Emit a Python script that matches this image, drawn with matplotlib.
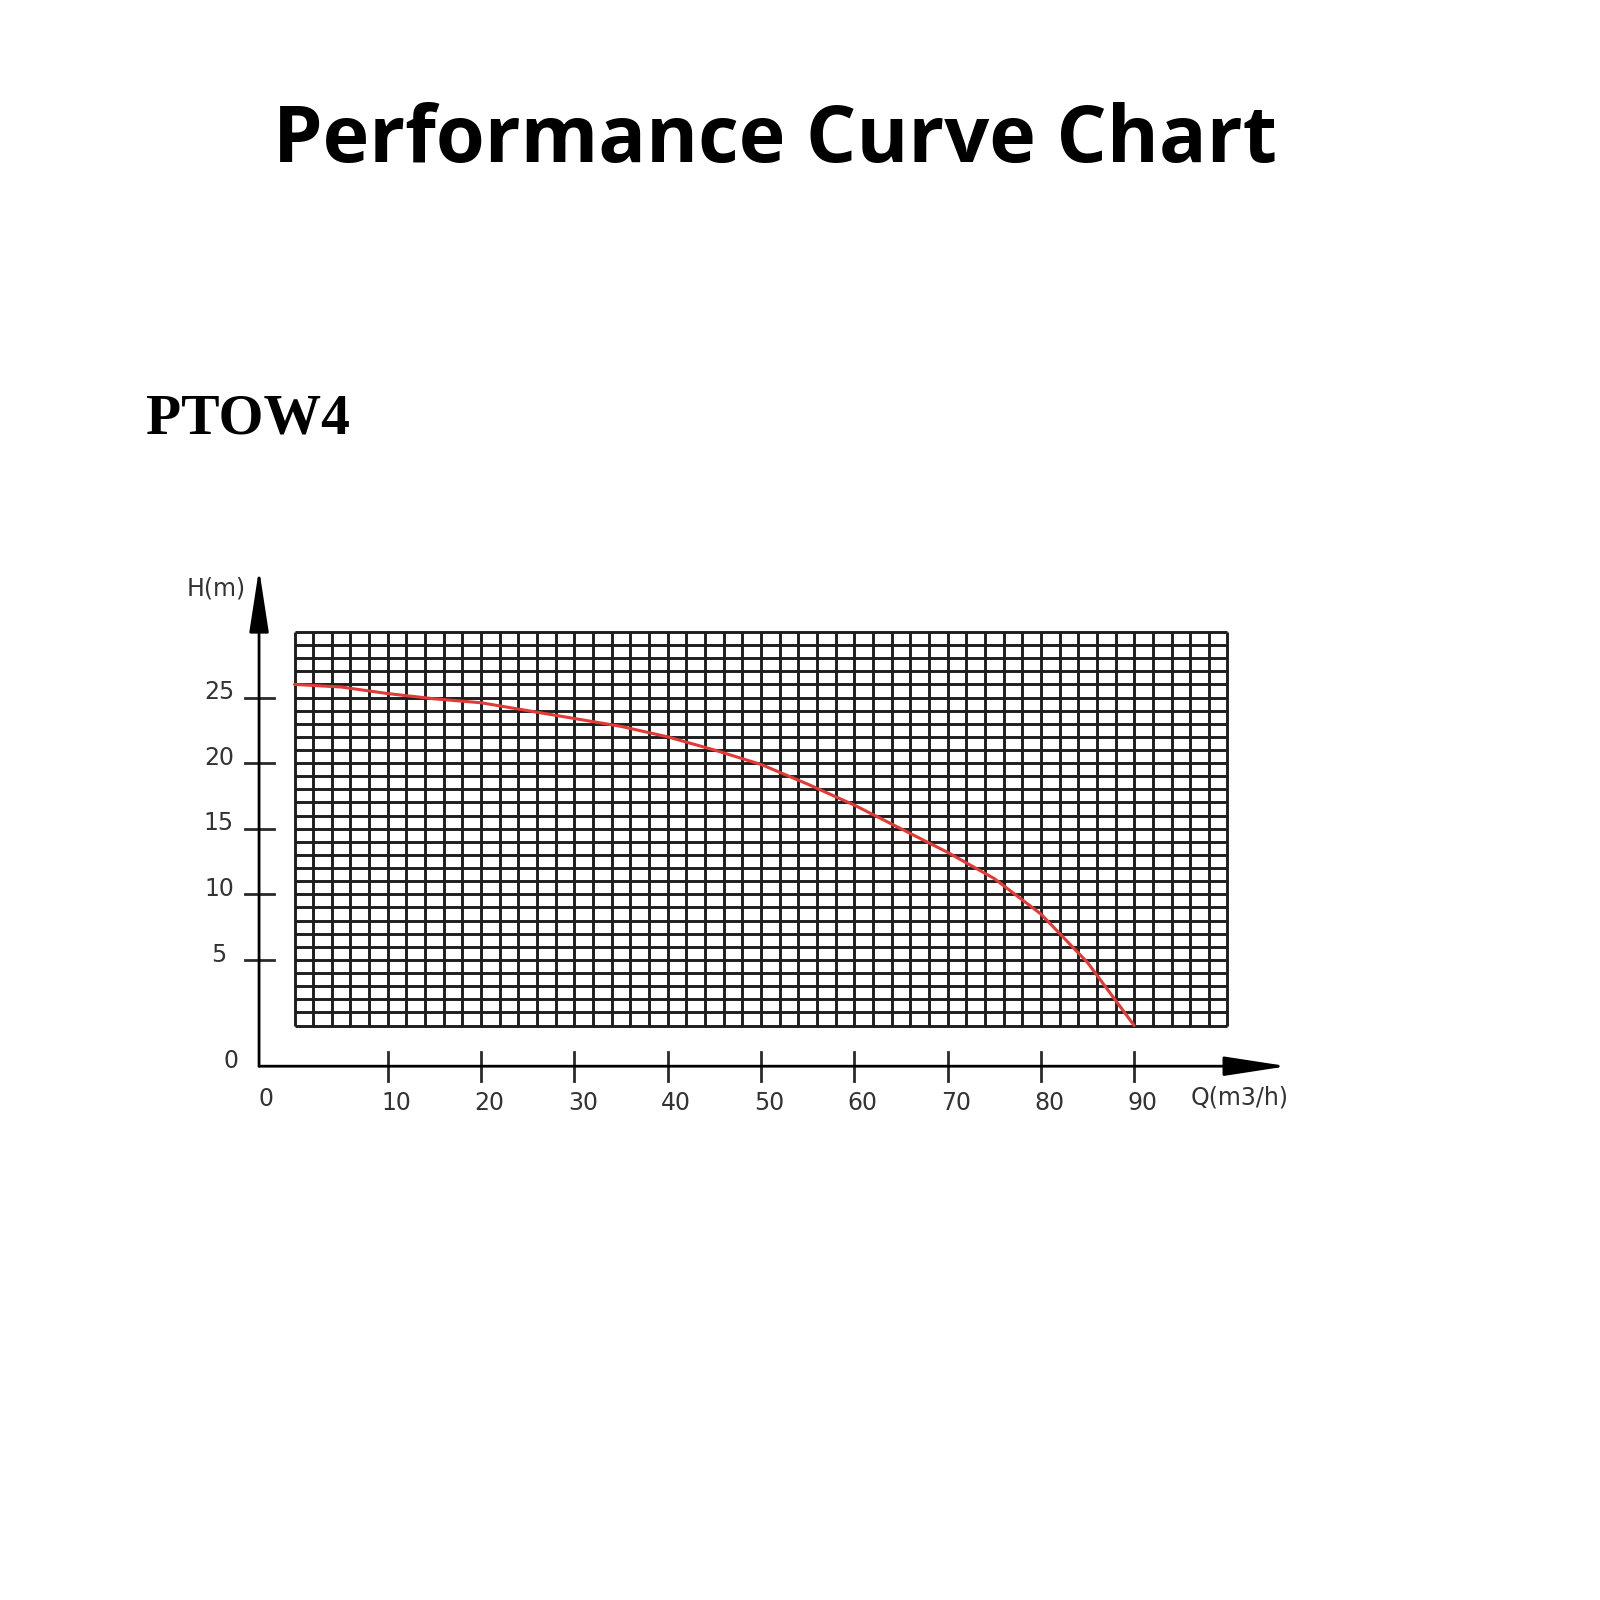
import numpy as np
import matplotlib
matplotlib.use("Agg")
import matplotlib.pyplot as plt

# ---- data ----
flow_q = [0, 5, 10, 15, 20, 25, 30, 35, 40, 45, 50, 55, 60, 65, 70, 75, 80, 85, 90]
head_h = [26.0, 25.8, 25.3, 24.9, 24.6, 24.0, 23.4, 22.8, 22.0, 21.0, 19.9, 18.4,
          16.8, 15.0, 13.2, 11.2, 8.5, 4.8, 0.0]
x_ticks = [10, 20, 30, 40, 50, 60, 70, 80, 90]
x_tick_labels = ["10", "20", "30", "40", "50", "60", "70", "80", "90"]
y_ticks = [5, 10, 15, 20, 25]
y_tick_labels = ["5", "10", "15", "20", "25"]
grid_q = np.arange(0, 101, 2)
grid_h = np.arange(0, 31, 1)

title = "Performance Curve Chart"
model = "PTOW4"
x_label = "Q(m3/h)"
y_label = "H(m)"

# ---- figure ----
fig = plt.figure(figsize=(16, 16), dpi=100)
fig.patch.set_facecolor("white")

fig.text(0.4844, 0.899, title, ha="center", va="baseline",
         fontsize=57, fontweight="bold", family=["Open Sans", "DejaVu Sans"])
fig.text(0.0913, 0.7289, model, ha="left", va="baseline",
         fontsize=41.5, fontweight="bold", family=["Liberation Serif", "DejaVu Serif"])

ax = fig.add_axes([0.12575, 0.29344, 0.69975, 0.39362])
ax.set_xlim(-10, 110)
ax.set_ylim(-8, 40)
ax.axis("off")

grid_col = "#1e1e1e"
ax.vlines(grid_q, grid_h[0], grid_h[-1], colors=grid_col, lw=2.1)
ax.hlines(grid_h, grid_q[0], grid_q[-1], colors=grid_col, lw=2.1)

# axes lines with arrows
ax_x0 = -3.8   # position of vertical axis (in Q units)
ax_y0 = -3.1   # position of horizontal axis (in H units)
axis_col = "#2a2a2a"
ax.annotate("", xy=(ax_x0, 34.8), xytext=(ax_x0, ax_y0),
            arrowprops=dict(arrowstyle="-|>,head_length=1.3,head_width=0.2",
                            color="black", lw=2.0, mutation_scale=30,
                            shrinkA=0, shrinkB=0))
ax.annotate("", xy=(106.4, ax_y0), xytext=(ax_x0, ax_y0),
            arrowprops=dict(arrowstyle="-|>,head_length=1.3,head_width=0.2",
                            color="black", lw=2.0, mutation_scale=30,
                            shrinkA=0, shrinkB=0))

# ticks
for yt in y_ticks:
    ax.plot([ax_x0 - 1.5, ax_x0 + 1.6], [yt, yt], color=axis_col, lw=2.0)
for xt in x_ticks:
    ax.plot([xt, xt], [ax_y0 - 1.1, ax_y0 + 1.1], color=axis_col, lw=2.0)

lab_font = dict(family=["Liberation Sans Narrow", "DejaVu Sans"], color="#333333",
                fontsize=17)
for yt, lb in zip(y_ticks, y_tick_labels):
    ax.text(-8.1, yt + 0.4, lb, ha="center", va="center", **lab_font)
for xt, lb in zip(x_ticks, x_tick_labels):
    ax.text(xt + 0.9, -5.9, lb, ha="center", va="center", **lab_font)
ax.text(-6.8, -2.7, "0", ha="center", va="center", **lab_font)
ax.text(-3.1, -5.6, "0", ha="center", va="center", **lab_font)
ax.text(-8.4, 33.3, y_label, ha="center", va="center", **lab_font)
ax.text(101.3, -5.5, x_label, ha="center", va="center", **lab_font)

# curve
ax.plot(flow_q, head_h, color="#e23a36", lw=2.2, solid_capstyle="round", zorder=5)

fig.savefig("out.png", dpi=100, facecolor="white")
